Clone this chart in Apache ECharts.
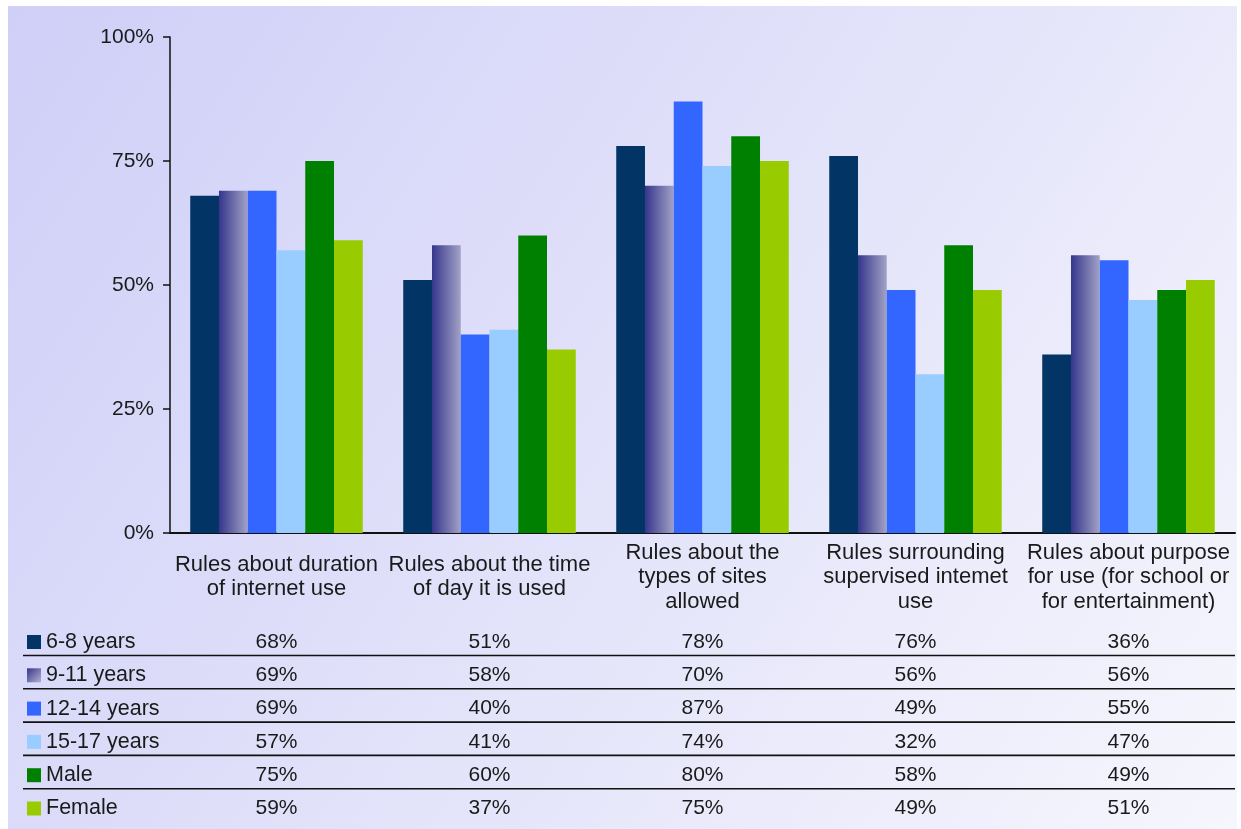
<!DOCTYPE html>
<html><head><meta charset="utf-8">
<script src="https://cdn.jsdelivr.net/npm/echarts@6/dist/echarts.min.js"></script>
<style>html,body{margin:0;padding:0;background:#fff}#c{width:1241px;height:829px}</style>
</head><body><div id="c"></div>
<script>
// ---- data ----
const categories = [
  'Rules about duration\nof internet use',
  'Rules about the time\nof day it is used',
  'Rules about the\ntypes of sites\nallowed',
  'Rules surrounding\nsupervised intemet\nuse',
  'Rules about purpose\nfor use (for school or\nfor entertainment)'
];
const seriesNames = ['6-8 years', '9-11 years', '12-14 years', '15-17 years', 'Male', 'Female'];
const v6to8   = [68, 51, 78, 76, 36];
const v9to11  = [69, 58, 70, 56, 56];
const v12to14 = [69, 40, 87, 49, 55];
const v15to17 = [57, 41, 74, 32, 47];
const vMale   = [75, 60, 80, 58, 49];
const vFemale = [59, 37, 75, 49, 51];
const yTicks  = [0, 25, 50, 75, 100];

const seriesValues = [v6to8, v9to11, v12to14, v15to17, vMale, vFemale];

// ---- styles ----
const FONT = "'Liberation Sans', Arial, Helvetica, sans-serif";
const TXT = '#1a1a1a';
const grad911 = () => new echarts.graphic.LinearGradient(0, 0, 1, 0, [
  { offset: 0, color: '#36368c' }, { offset: 1, color: '#a2a2c6' }
]);
const colors = ['#033466', grad911(), '#3366ff', '#99ccff', '#008000', '#99cc00'];

const chart = echarts.init(document.getElementById('c'), null, { renderer: 'canvas' });

const option = {
  animation: false,
  backgroundColor: '#ffffff',
  grid: { left: 170, top: 37, width: 1065, height: 496, containLabel: false },
  xAxis: {
    type: 'category',
    data: categories,
    axisLine: { show: true, lineStyle: { color: '#111', width: 2 } },
    axisTick: { show: false },
    axisLabel: {
      interval: 0, fontFamily: FONT, fontSize: 22, lineHeight: 24.5,
      color: TXT, margin: 44, verticalAlign: 'middle', align: 'center'
    },
    splitLine: { show: false }
  },
  yAxis: {
    type: 'value', min: yTicks[0], max: yTicks[yTicks.length - 1], interval: 25,
    axisLine: { show: true, lineStyle: { color: '#111', width: 1.5 } },
    axisTick: { show: true, inside: false, length: 7, lineStyle: { color: '#111', width: 1.5 } },
    axisLabel: { formatter: '{value}%', fontFamily: FONT, fontSize: 21, color: TXT, margin: 16 },
    splitLine: { show: false }
  },
  series: seriesNames.map((name, i) => ({
    name, type: 'bar', data: seriesValues[i],
    barGap: '0%', barCategoryGap: '19%',
    itemStyle: { color: colors[i] },
    z: 2
  }))
};
chart.setOption(option);

// ---- background panel + data table ----
const elements = [];
elements.push({
  type: 'rect', z: -100, silent: true,
  shape: { x: 8, y: 6, width: 1229, height: 823 },
  style: {
    fill: new echarts.graphic.LinearGradient(0, 0, 1, 1, [
      { offset: 0, color: '#cfcff8' },
      { offset: 0.5, color: '#e2e2fa' },
      { offset: 1, color: '#f6f6fd' }
    ])
  }
});

const rowTop = 642, rowStep = 33.3;
seriesNames.forEach((name, r) => {
  const cy = rowTop + r * rowStep;
  elements.push({
    type: 'rect', z: 10, silent: true,
    shape: { x: 27, y: cy - 7, width: 14, height: 14 },
    style: { fill: r === 1 ? new echarts.graphic.LinearGradient(0, 0, 1, 1, [
      { offset: 0, color: '#36368c' }, { offset: 1, color: '#b0b0d0' }]) : colors[r] }
  });
  elements.push({
    type: 'text', z: 10, silent: true,
    style: { x: 46, y: cy, text: name, font: '21.5px ' + FONT, fill: TXT,
      textAlign: 'left', textVerticalAlign: 'middle' }
  });
  categories.forEach((c, k) => {
    const px = chart.convertToPixel({ xAxisIndex: 0 }, k);
    elements.push({
      type: 'text', z: 10, silent: true,
      style: { x: px, y: cy, text: seriesValues[r][k] + '%', font: '21px ' + FONT, fill: TXT,
        textAlign: 'center', textVerticalAlign: 'middle' }
    });
  });
  if (r < seriesNames.length - 1) {
    const ly = cy + 13.5;
    elements.push({
      type: 'line', z: 10, silent: true,
      shape: { x1: 23, y1: ly, x2: 1235, y2: ly },
      style: { stroke: '#111', lineWidth: 1.6 }
    });
  }
});
chart.setOption({ graphic: { elements } });
</script>
</body></html>
